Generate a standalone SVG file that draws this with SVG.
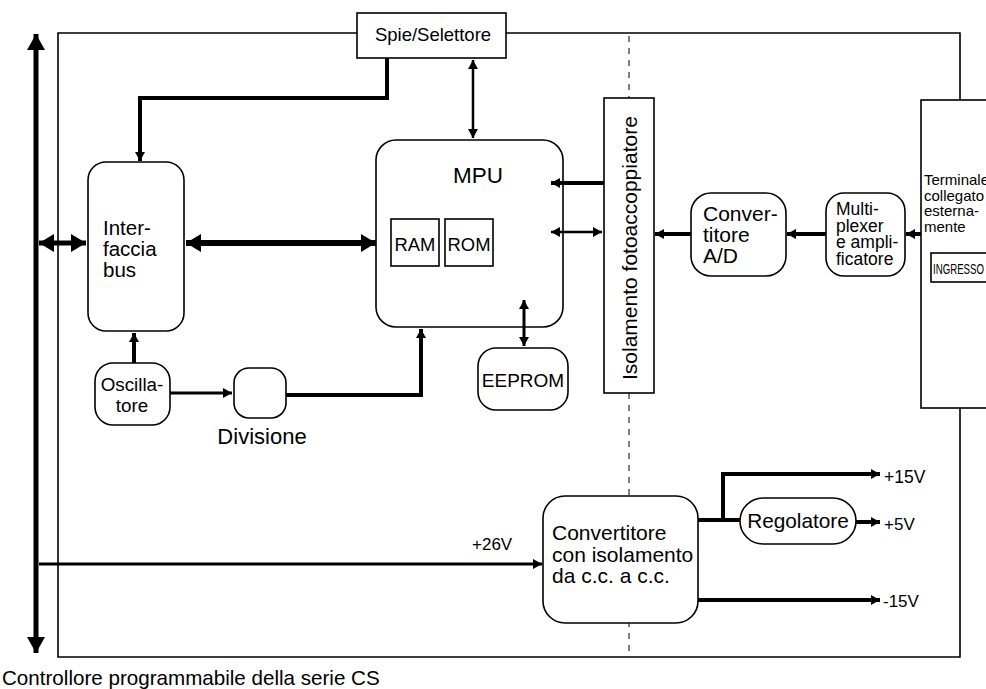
<svg xmlns="http://www.w3.org/2000/svg" width="986" height="689" viewBox="0 0 986 689">
<style>
text{font-family:"Liberation Sans",Arial,sans-serif;fill:#000}
.box{fill:#fff;stroke:#000;stroke-width:1.6}
.frame{fill:none;stroke:#000;stroke-width:1.6}
.dash{fill:none;stroke:#000;stroke-width:1;stroke-dasharray:6 6}
.c{fill:none;stroke:#000;stroke-linejoin:miter}
.t4{stroke-width:4}
.t3{stroke-width:3}
.t25{stroke-width:2.5}
</style>
<defs>
<marker id="ah" markerUnits="userSpaceOnUse" markerWidth="9" markerHeight="10" refX="9" refY="5" orient="auto-start-reverse"><path d="M0,0 L9,5 L0,10 z"/></marker>
<marker id="ahb" markerUnits="userSpaceOnUse" markerWidth="15" markerHeight="18" refX="15" refY="9" orient="auto-start-reverse"><path d="M0,0 L15,9 L0,18 z"/></marker>
<marker id="ahbus" markerUnits="userSpaceOnUse" markerWidth="16" markerHeight="18" refX="16" refY="9" orient="auto-start-reverse"><path d="M0,0 L16,9 L0,18 z"/></marker>
</defs>

<g id="frame">
<path class="frame" d="M357,33 H58 V657 H960 V408 M506,33 H960 V100"/>
<path class="dash" d="M629,36 V98 M629,393 V657"/>
</g>

<g id="spie">
<rect class="box" x="357" y="13" width="149" height="45"/>
<text x="433" y="41" font-size="18.5" text-anchor="middle">Spie/Selettore</text>
</g>

<g id="interfaccia">
<rect class="box" x="88" y="162" width="96" height="169" rx="18"/>
<text font-size="20.5"><tspan x="103" y="235">Inter-</tspan><tspan x="103" y="256">faccia</tspan><tspan x="103" y="277">bus</tspan></text>
</g>

<g id="mpu">
<rect class="box" x="376" y="140" width="187" height="187" rx="20"/>
<text x="478" y="183" font-size="22.5" text-anchor="middle">MPU</text>
</g>
<g id="ram">
<rect class="box" x="391" y="219" width="48" height="47"/>
<text x="415" y="251" font-size="18.4" text-anchor="middle">RAM</text>
</g>
<g id="rom">
<rect class="box" x="445" y="219" width="48" height="47"/>
<text x="469" y="251" font-size="18.4" text-anchor="middle">ROM</text>
</g>

<g id="eeprom">
<rect class="box" x="478" y="348" width="90" height="62" rx="18"/>
<text x="523" y="387" font-size="19" text-anchor="middle">EEPROM</text>
</g>

<g id="oscillatore">
<rect class="box" x="95" y="363" width="75" height="62" rx="18"/>
<text font-size="18.8" text-anchor="middle"><tspan x="132" y="391">Oscilla-</tspan><tspan x="132" y="412">tore</tspan></text>
</g>

<g id="divisione">
<rect class="box" x="234" y="368" width="52" height="50" rx="15"/>
<text x="262" y="444" font-size="22" text-anchor="middle">Divisione</text>
</g>

<g id="opto">
<rect class="box" x="604" y="98" width="50" height="295"/>
<text transform="translate(636.5,380) rotate(-90)" font-size="21">Isolamento fotoaccoppiatore</text>
</g>

<g id="ad">
<rect class="box" x="691" y="193" width="95" height="83" rx="20"/>
<text font-size="21"><tspan x="703" y="221">Conver-</tspan><tspan x="703" y="242">titore</tspan><tspan x="703" y="263">A/D</tspan></text>
</g>

<g id="mux">
<rect class="box" x="826" y="193" width="79" height="83" rx="18"/>
<text font-size="17.5"><tspan x="836" y="215">Multi-</tspan><tspan x="836" y="232">plexer</tspan><tspan x="836" y="248">e ampli-</tspan><tspan x="836" y="265">ficatore</tspan></text>
</g>

<g id="terminale">
<rect class="box" x="921" y="100" width="80" height="308" stroke-width="2"/>
<text font-size="15"><tspan x="924" y="185">Terminale</tspan><tspan x="924" y="201">collegato</tspan><tspan x="924" y="216">esterna-</tspan><tspan x="924" y="232">mente</tspan></text>
</g>
<g id="ingresso">
<rect class="box" x="931" y="253" width="70" height="29"/>
<text x="933" y="274" font-size="14" textLength="51" lengthAdjust="spacingAndGlyphs">INGRESSO</text>
</g>

<g id="convertitore">
<rect class="box" x="543" y="496" width="155" height="127" rx="22"/>
<text font-size="21"><tspan x="552" y="540">Convertitore</tspan><tspan x="552" y="562">con isolamento</tspan><tspan x="552" y="583">da c.c. a c.c.</tspan></text>
</g>

<g id="regolatore">
<rect class="box" x="740" y="498" width="116" height="46" rx="23"/>
<text x="798" y="528" font-size="20.8" text-anchor="middle">Regolatore</text>
</g>

<g id="labels">
<text x="472" y="550" font-size="17">+26V</text>
<text x="884" y="483" font-size="17.5">+15V</text>
<text x="884" y="530" font-size="17">+5V</text>
<text x="883" y="607" font-size="17">-15V</text>
<text x="2" y="685" font-size="20.6">Controllore programmabile della serie CS</text>
</g>

<g id="connectors">
<path class="c" stroke-width="5" d="M36,34 V653" marker-start="url(#ahbus)" marker-end="url(#ahbus)"/>
<path class="c t4" d="M387,58 V98 H140 V161" marker-end="url(#ah)"/>
<path class="c t25" d="M473,60 V138" marker-start="url(#ah)" marker-end="url(#ah)"/>
<path class="c" stroke-width="5" d="M39,243 H86" marker-start="url(#ahb)" marker-end="url(#ahb)"/>
<path class="c" stroke-width="6" d="M186,243 H376" marker-start="url(#ahb)" marker-end="url(#ahb)"/>
<path class="c t4" d="M134,363 V333" marker-end="url(#ah)"/>
<path class="c t3" d="M170,393 H232" marker-end="url(#ah)"/>
<path class="c t4" d="M286,395 H421 V329" marker-end="url(#ah)"/>
<path class="c t4" d="M604,183 H551" marker-end="url(#ah)"/>
<path class="c t25" d="M551,232 H602" marker-start="url(#ah)" marker-end="url(#ah)"/>
<path class="c t3" d="M524,300 V346" marker-start="url(#ah)" marker-end="url(#ah)"/>
<path class="c t4" d="M691,234 H655" marker-end="url(#ah)"/>
<path class="c t4" d="M826,234 H787" marker-end="url(#ah)"/>
<path class="c t4" d="M921,234 H906" marker-end="url(#ah)"/>
<path class="c t3" d="M39,564 H542" marker-end="url(#ah)"/>
<path class="c t4" d="M698,520 H740"/>
<path class="c t4" d="M723,520 V474 H880" marker-end="url(#ah)"/>
<path class="c t4" d="M856,522 H880" marker-end="url(#ah)"/>
<path class="c t4" d="M698,600 H880" marker-end="url(#ah)"/>
</g>
</svg>
